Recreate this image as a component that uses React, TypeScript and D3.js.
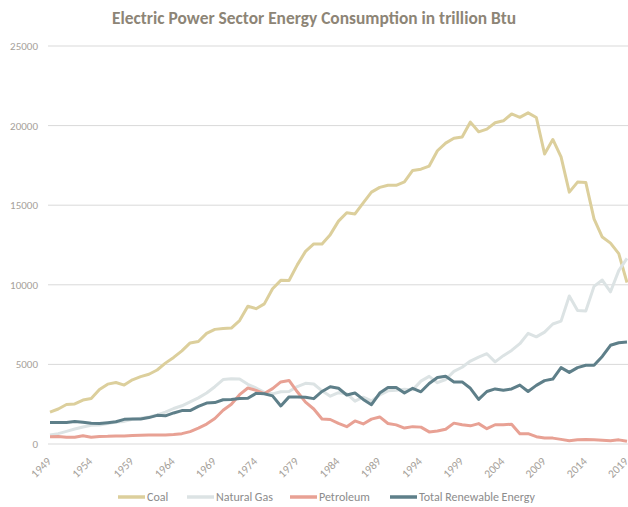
import * as d3 from "d3";

// years 1949..2019, values in trillion Btu
const years = d3.range(1949, 2020);

const coal = [
  2000, 2200, 2480, 2520, 2760, 2860, 3430, 3760, 3860, 3700, 4030,
  4230, 4380, 4650, 5080, 5440, 5850, 6350, 6440, 6950, 7200,
  7250, 7280, 7750, 8650, 8500, 8800, 9750, 10280, 10270, 11250,
  12100, 12570, 12560, 13150, 14000, 14530, 14450, 15150, 15820, 16120,
  16250, 16250, 16460, 17180, 17260, 17460, 18420, 18900, 19210, 19280,
  20220, 19610, 19780, 20180, 20300, 20730, 20520, 20800, 20510, 18220,
  19130, 18030, 15820, 16450, 16430, 14140, 13000, 12620, 11960, 10140,
];

const naturalGas = [
  570, 650, 790, 940, 1070, 1180, 1190, 1280, 1380, 1420, 1550,
  1620, 1700, 1820, 2000, 2230, 2400, 2650, 2900, 3200, 3600,
  4050, 4100, 4080, 3750, 3520, 3240, 3150, 3280, 3300, 3610,
  3810, 3770, 3340, 3000, 3220, 3160, 2690, 2940, 2710, 3080,
  3340, 3370, 3440, 3400, 3950, 4250, 3850, 4050, 4560, 4820,
  5210, 5460, 5670, 5160, 5550, 5880, 6300, 6950, 6730, 7030,
  7540, 7720, 9300, 8380, 8360, 9900, 10300, 9560, 10890, 11660,
];

const petroleum = [
  450, 470, 420, 420, 520, 430, 470, 480, 510, 500, 540,
  550, 560, 560, 570, 600, 650, 780, 1000, 1250, 1600,
  2120, 2500, 3100, 3520, 3370, 3170, 3480, 3900, 3990, 3280,
  2630, 2200, 1570, 1540, 1290, 1090, 1450, 1260, 1560, 1700,
  1290, 1200, 1000, 1090, 1060, 760, 820, 930, 1310, 1210,
  1140, 1280, 960, 1210, 1210, 1240, 640, 650, 460, 380,
  370, 290, 210, 260, 290, 260, 230, 210, 260, 170,
];

const renewable = [
  1350, 1350, 1350, 1420, 1360, 1300, 1290, 1340, 1400, 1550, 1570,
  1570, 1660, 1800, 1770, 1950, 2100, 2100, 2360, 2570, 2600,
  2780, 2800, 2860, 2870, 3180, 3160, 3020, 2390, 2960, 2950,
  2930, 2850, 3300, 3600, 3500, 3080, 3200, 2800, 2470, 3200,
  3550, 3550, 3200, 3500, 3280, 3800, 4180, 4250, 3900, 3900,
  3500, 2800, 3300, 3460, 3370, 3460, 3700, 3300, 3680, 3980,
  4080, 4800, 4500, 4800, 4950, 4950, 5500, 6200, 6360, 6400,
];

const seriesNames = ["Coal", "Natural Gas", "Petroleum", "Total Renewable Energy"];
const seriesColors = ["#DCCF9C", "#DCE3E4", "#E8A194", "#5E7F89"];
const yTicks = [0, 5000, 10000, 15000, 20000, 25000];
const xTickYears = d3.range(1949, 2020, 5);

const W = 628;
const H = 507;
const FONT = "Carlito, Calibri, Lato, 'Open Sans', sans-serif";

export default function App() {
  const x = d3.scaleLinear().domain([1949, 2019]).range([50, 627]);
  const y = d3.scaleLinear().domain([0, 25000]).range([444, 46]);

  const all = [coal, naturalGas, petroleum, renewable];
  const line = d3
    .line<number>()
    .x((_, i) => x(years[i]))
    .y((d) => y(d));

  const legendX = [118, 187, 290, 390];

  return (
    <svg
      width={W}
      height={H}
      style={{ position: "absolute", left: 0, top: 0, background: "#fff" }}
      fontFamily={FONT}
    >
      <text
        x={314}
        y={24}
        textAnchor="middle"
        fontSize={17}
        fontWeight="bold"
        fill="#8D8576"
        textLength={404}
        lengthAdjust="spacingAndGlyphs"
      >
        Electric Power Sector Energy Consumption in trillion Btu
      </text>

      {yTicks.map((t) => (
        <g key={t}>
          <line x1={48} x2={628} y1={y(t)} y2={y(t)} stroke="#D9D9D9" strokeWidth={1} />
          <text x={38} y={y(t) + 4} textAnchor="end" fontSize={11} fill="#A6A19A">
            {t}
          </text>
        </g>
      ))}

      {xTickYears.map((yr) => (
        <text
          key={yr}
          transform={`translate(${x(yr) + 2},${462}) rotate(-45)`}
          textAnchor="end"
          fontSize={11.5}
          fill="#A6A19A"
        >
          {yr}
        </text>
      ))}

      {all.map((vals, i) => (
        <path
          key={seriesNames[i]}
          d={line(vals) || ""}
          fill="none"
          stroke={seriesColors[i]}
          strokeWidth={3}
          strokeLinejoin="round"
        />
      ))}

      {seriesNames.map((name, i) => (
        <g key={name} transform={`translate(${legendX[i]},${497})`}>
          <line x1={0} x2={27} y1={0} y2={0} stroke={seriesColors[i]} strokeWidth={3.5} />
          <text x={29} y={4} fontSize={12} fill="#8C8C8C">
            {name}
          </text>
        </g>
      ))}
    </svg>
  );
}
